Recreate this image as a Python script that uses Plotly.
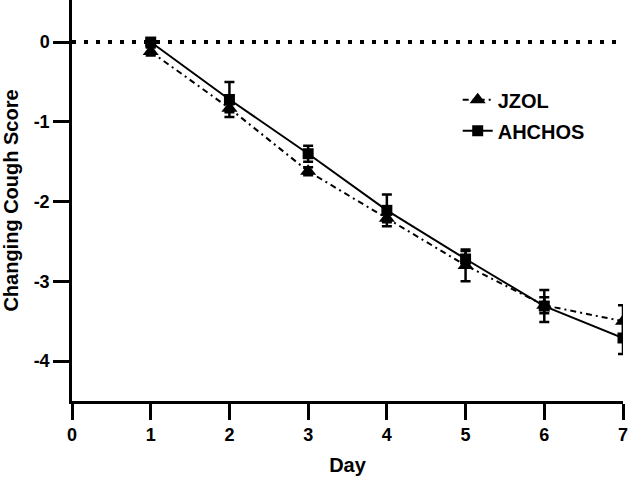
import plotly.graph_objects as go

days = [1, 2, 3, 4, 5, 6, 7]
jzol = [-0.12, -0.83, -1.62, -2.21, -2.80, -3.30, -3.50]
jzol_err = [0.05, 0.05, 0.05, 0.05, 0.20, 0.10, 0.20]
ahchos = [0.0, -0.72, -1.40, -2.11, -2.72, -3.31, -3.71]
ahchos_err = [0.03, 0.22, 0.10, 0.20, 0.10, 0.20, 0.20]
ref_x = [0, 7]
ref_y = [0, 0]
x_ticks = [0, 1, 2, 3, 4, 5, 6, 7]
x_ticklabels = ["0", "1", "2", "3", "4", "5", "6", "7"]
y_ticks = [0, -1, -2, -3, -4]
y_ticklabels = ["0", "-1", "-2", "-3", "-4"]

font = "Arial, Liberation Sans, sans-serif"
fs = 18
ts = 20

fig = go.Figure()
fig.add_trace(go.Scatter(
    x=ref_x, y=ref_y, mode="lines", showlegend=False, hoverinfo="skip",
    line=dict(color="black", width=4, dash="4px,8px"),
))
fig.add_trace(go.Scatter(
    x=days, y=jzol, name="<b>JZOL</b>", mode="lines+markers", legendgroup="a",
    line=dict(color="black", width=2, dash="6px,4px,2px,4px"),
    marker=dict(symbol="triangle-up", size=14, color="black"),
    error_y=dict(type="data", array=jzol_err, visible=True, color="black", thickness=2.5, width=5),
))
fig.add_trace(go.Scatter(
    x=days, y=ahchos, name="<b>AHCHOS</b>", mode="lines+markers", legendgroup="b",
    line=dict(color="black", width=2),
    marker=dict(symbol="square", size=11, color="black"),
    error_y=dict(type="data", array=ahchos_err, visible=True, color="black", thickness=2.5, width=5),
))

fig.update_layout(
    width=631, height=480,
    margin=dict(l=71.5, r=8, t=0, b=79.3, autoexpand=False),
    plot_bgcolor="white", paper_bgcolor="white",
    font=dict(family=font, size=fs, color="black"),
    legend=dict(
        x=0.70, y=0.80, xanchor="left", yanchor="top",
        bgcolor="rgba(0,0,0,0)", tracegroupgap=2,
        font=dict(family=font, size=ts, color="black"),
    ),
    xaxis=dict(
        range=[0, 7], tickvals=x_ticks, ticktext=["<b>%s</b>" % t for t in x_ticklabels],
        showgrid=False, zeroline=False, automargin=False,
        showline=True, linecolor="black", linewidth=2.5,
        ticks="outside", ticklen=16, tickwidth=2.5, tickcolor="black",
        tickfont=dict(family=font, size=fs, color="black"),
        title=dict(text="<b>Day</b>", font=dict(family=font, size=ts, color="black"), standoff=14),
    ),
    yaxis=dict(
        range=[-4.5, 0.527], tickvals=y_ticks, ticktext=["<b>%s</b>" % t for t in y_ticklabels],
        showgrid=False, zeroline=False, automargin=False,
        showline=True, linecolor="black", linewidth=2.5,
        ticks="outside", ticklen=16, tickwidth=2.5, tickcolor="black",
        tickfont=dict(family=font, size=fs, color="black"),
        title=dict(text="<b>Changing Cough Score</b>", font=dict(family=font, size=ts, color="black"), standoff=10),
    ),
)

fig.write_html("out.html", config={"displayModeBar": False},
               post_script="document.body.style.margin='0';document.body.style.padding='0';")
